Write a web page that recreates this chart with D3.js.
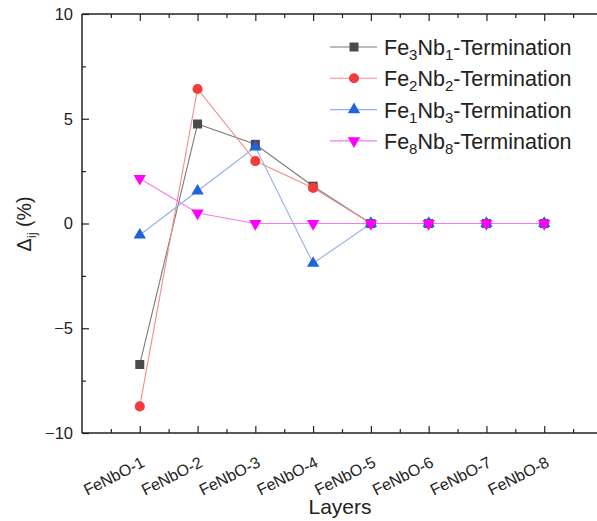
<!DOCTYPE html>
<html>
<head>
<meta charset="utf-8">
<script src="https://cdn.jsdelivr.net/npm/d3@7"></script>
<style>
  body { margin: 0; background: #fff; }
  text { font-family: "Liberation Sans", Arial, sans-serif; fill: #222; }
</style>
</head>
<body>
<svg id="chart" width="597" height="521"></svg>
<script>
var layers = ["FeNbO-1", "FeNbO-2", "FeNbO-3", "FeNbO-4", "FeNbO-5", "FeNbO-6", "FeNbO-7", "FeNbO-8"];
var fe3nb1 = [-6.73, 4.75, 3.78, 1.78, 0, 0, 0, 0];
var fe2nb2 = [-8.73, 6.42, 2.98, 1.70, 0, 0, 0, 0];
var fe1nb3 = [-0.55, 1.55, 3.65, -1.90, 0, 0, 0, 0];
var fe8nb8 = [2.15, 0.50, 0, 0, 0, 0, 0, 0];
var yTicks = [-10, -5, 0, 5, 10];

var series = [
  {sub: ["3", "1"], values: fe3nb1, color: "#4a4a4a", line: "#7a7a7a", shape: d3.symbolSquare, size: 81, rot: 0},
  {sub: ["2", "2"], values: fe2nb2, color: "#f23c3c", line: "#f58a8a", shape: d3.symbolCircle, size: 80, rot: 0},
  {sub: ["1", "3"], values: fe1nb3, color: "#1e64dc", line: "#8fb0ea", shape: d3.symbolTriangle, size: 66, rot: 0},
  {sub: ["8", "8"], values: fe8nb8, color: "#ff00ff", line: "#f07af0", shape: d3.symbolTriangle, size: 66, rot: 180}
];

var plotLeft = 82, plotRight = 602, plotTop = 14, plotBottom = 433;
var svg = d3.select("#chart");

var x = d3.scaleLinear().domain([0, 9]).range([plotLeft, plotRight]);
var y = d3.scaleLinear().domain([-10, 10]).range([plotBottom, plotTop]);

// axes, ticks pointing inward
var minorX = d3.range(0.5, 9, 1);
var majorX = d3.range(1, 9);
var minorY = [-7.5, -2.5, 2.5, 7.5];

function noDomain(g) { g.select(".domain").remove(); }

svg.append("g").attr("transform", "translate(0," + plotBottom + ")")
  .call(d3.axisBottom(x).tickValues(majorX).tickSize(-7).tickFormat("")).call(noDomain);
svg.append("g").attr("transform", "translate(0," + plotBottom + ")")
  .call(d3.axisBottom(x).tickValues(minorX).tickSize(-4).tickFormat("")).call(noDomain);
svg.append("g").attr("transform", "translate(0," + plotTop + ")")
  .call(d3.axisTop(x).tickValues(majorX).tickSize(-7).tickFormat("")).call(noDomain);
svg.append("g").attr("transform", "translate(0," + plotTop + ")")
  .call(d3.axisTop(x).tickValues(minorX).tickSize(-4).tickFormat("")).call(noDomain);

var yAxis = svg.append("g").attr("transform", "translate(" + plotLeft + ",0)")
  .call(d3.axisLeft(y).tickValues(yTicks).tickSize(-7).tickPadding(9)
    .tickFormat(function(d) { return d < 0 ? "\u2212" + Math.abs(d) : d; }))
  .call(noDomain);
yAxis.selectAll("text").attr("font-size", 16.5).attr("fill", "#222")
  .style("font-family", "Liberation Sans, Arial, sans-serif");
svg.append("g").attr("transform", "translate(" + plotLeft + ",0)")
  .call(d3.axisLeft(y).tickValues(minorY).tickSize(-4).tickFormat("")).call(noDomain);

svg.selectAll(".tick line").attr("stroke", "#222").attr("stroke-width", 1.2);

svg.append("line").attr("x1", plotLeft).attr("x2", plotLeft).attr("y1", plotTop).attr("y2", plotBottom)
  .attr("stroke", "#222").attr("stroke-width", 1.5);
svg.append("line").attr("x1", plotLeft).attr("x2", plotRight).attr("y1", plotBottom).attr("y2", plotBottom)
  .attr("stroke", "#222").attr("stroke-width", 1.5);
svg.append("line").attr("x1", plotLeft).attr("x2", plotRight).attr("y1", plotTop).attr("y2", plotTop)
  .attr("stroke", "#222").attr("stroke-width", 1.5);

// x tick labels
svg.selectAll(".xlab").data(layers).enter().append("text")
  .attr("class", "xlab")
  .attr("font-size", 16)
  .attr("text-anchor", "end")
  .attr("transform", function(d, i) { return "translate(" + (x(i + 1) + 6) + "," + 466 + ") rotate(-27)"; })
  .text(function(d) { return d; });

svg.append("text").attr("x", 340).attr("y", 514).attr("text-anchor", "middle")
  .attr("font-size", 21).text("Layers");

var yl = svg.append("text").attr("transform", "translate(31,224) rotate(-90)")
  .attr("text-anchor", "middle").attr("font-size", 19.5);
yl.append("tspan").text("\u0394");
yl.append("tspan").attr("font-size", 13.5).attr("dy", 5).text("ij");
yl.append("tspan").attr("dy", -5).text(" (%)");

// series
var line = d3.line().x(function(d, i) { return x(i + 1); }).y(function(d) { return y(d); });

series.forEach(function(s) {
  svg.append("path").datum(s.values).attr("d", line)
    .attr("fill", "none").attr("stroke", s.line).attr("stroke-width", 1.1);
});
series.forEach(function(s) {
  svg.selectAll(null).data(s.values).enter().append("path")
    .attr("d", d3.symbol().type(s.shape).size(s.size))
    .attr("fill", s.color)
    .attr("transform", function(d, i) {
      return "translate(" + x(i + 1) + "," + y(d) + ") rotate(" + s.rot + ")";
    });
});

// legend
var legend = svg.append("g");
series.forEach(function(s, i) {
  var ly = 47 + i * 31.3;
  legend.append("line").attr("x1", 330).attr("x2", 377).attr("y1", ly).attr("y2", ly)
    .attr("stroke", s.line).attr("stroke-width", 1.1);
  legend.append("path").attr("d", d3.symbol().type(s.shape).size(s.size))
    .attr("fill", s.color)
    .attr("transform", "translate(354," + ly + ") rotate(" + s.rot + ")");
  var t = legend.append("text").attr("x", 384).attr("y", ly + 8).attr("font-size", 21.5);
  t.append("tspan").text("Fe");
  t.append("tspan").attr("font-size", 15).attr("dy", 5).text(s.sub[0]);
  t.append("tspan").attr("dy", -5).text("Nb");
  t.append("tspan").attr("font-size", 15).attr("dy", 5).text(s.sub[1]);
  t.append("tspan").attr("dy", -5).text("-Termination");
});
</script>
</body>
</html>
